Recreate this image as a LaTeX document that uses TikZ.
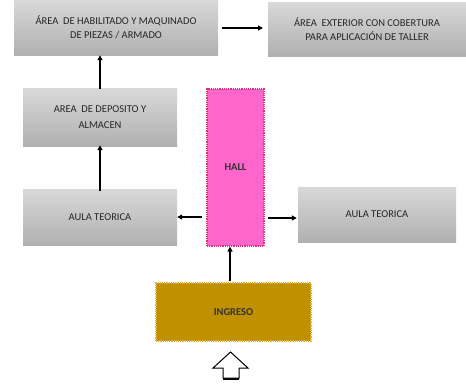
\documentclass[tikz,border=0pt]{standalone}
\usepackage{fontspec}
\setmainfont{Carlito}
\usetikzlibrary{arrows.meta}
\definecolor{hallpink}{HTML}{FF66CC}
\definecolor{hallborder}{HTML}{E0307A}
\definecolor{ingfill}{HTML}{BF9000}
\definecolor{ingborder}{HTML}{DDB040}
\begin{document}
\begin{tikzpicture}[x=1pt,y=-1pt,
  graybox/.style={draw=none,top color=gray!30,bottom color=gray!62,font=\fontsize{10.5}{12.5}\selectfont,text=black!85,align=center,inner sep=0pt},
  conn/.style={-{Triangle[length=5pt,width=5pt]},line width=1.5pt}]
\useasboundingbox (0,0) rectangle (466,386);
\fill[white] (0,0) rectangle (466,386);
% boxes
\node[graybox,minimum width=204pt,minimum height=55pt] (hab) at (116,27.5) {ÁREA\ \ DE HABILITADO Y MAQUINADO\\[1pt]DE PIEZAS / ARMADO};
\node[graybox,minimum width=198pt,minimum height=54pt] (ext) at (367,29) {ÁREA\ \ EXTERIOR CON COBERTURA\\[1pt]PARA APLICACIÓN DE TALLER};
\node[graybox,minimum width=154pt,minimum height=58pt] (dep) at (100,117) {AREA\ \ DE DEPOSITO Y\\[4pt]ALMACEN};
\node[graybox,minimum width=154pt,minimum height=56pt] (aulaL) at (100,217) {AULA TEORICA};
\node[graybox,minimum width=158pt,minimum height=55pt] (aulaR) at (377,214.5) {AULA TEORICA};
\node[draw=hallborder,densely dotted,line width=1.2pt,fill=hallpink,minimum width=57pt,minimum height=157pt,inner sep=0pt,font=\fontsize{10.5}{12}\selectfont\bfseries,text=black!80] (hall) at (235.5,167.5) {HALL};
\node[draw=ingborder,densely dotted,line width=1.2pt,fill=ingfill,minimum width=155pt,minimum height=58pt,inner sep=0pt,font=\fontsize{10.5}{12}\selectfont\bfseries,text=black!80] (ing) at (233.5,312) {INGRESO};
% connectors
\coordinate (a1s) at (222,28); \coordinate (a1e) at (263,28);
\draw[conn] (a1s) -- (a1e);
\draw[conn] ([yshift=-1pt]dep.north) -- (hab.south -| dep.north);
\draw[conn] ([yshift=-2pt]aulaL.north) -- ([yshift=1pt]dep.south);
\coordinate (hl) at (202,217); \coordinate (hr) at (268,218);
\draw[conn] (hl) -- (aulaL.east |- hl);
\draw[conn] (hr) -- ([xshift=-1pt]aulaR.west |- hr);
\coordinate (iu) at (230,281);
\draw[conn] (iu) -- (iu |- hall.south);
% hollow arrow
\coordinate (ha) at (230.5,352);
\fill[black] (223,373) rectangle (239,380);
\draw[line width=1pt,fill=white,line join=miter] (ha) -- (248,368) -- (239,368) -- (239,378) -- (223,378) -- (223,368) -- (213,368) -- cycle;
\end{tikzpicture}
\end{document}
